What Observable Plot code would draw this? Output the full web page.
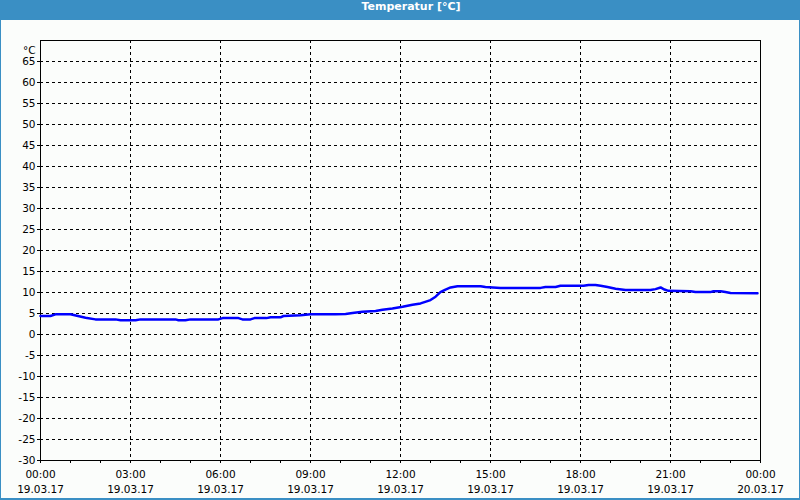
<!DOCTYPE html>
<html>
<head>
<meta charset="utf-8">
<script src="https://cdn.jsdelivr.net/npm/d3@7"></script>
<script src="https://cdn.jsdelivr.net/npm/@observablehq/plot@0.6"></script>
<style>
  html, body { margin: 0; padding: 0; background: #ffffff; }
  #wrap { position: relative; width: 800px; height: 500px; background: #3a8fc4; overflow: hidden; }
  #title { position: absolute; left: 0; top: 0; width: 800px; height: 20px; line-height: 20px;
           text-align: center; padding-left: 22px; box-sizing: border-box;
           color: #ffffff; font: bold 11px "DejaVu Sans", sans-serif; }
  #panel { position: absolute; left: 1px; top: 20px; right: 1px; bottom: 2px; background: #fbfdfb; }
  #chart { position: absolute; left: 0; top: 20px; }
  #chart svg { overflow: visible; }
</style>
</head>
<body>
<div id="wrap">
  <div id="title">Temperatur [°C]</div>
  <div id="panel"></div>
  <div id="chart"></div>
</div>
<script>
// Hours since 19.03.17 00:00
const hours = [0.0, 0.33, 0.5, 1.0, 1.25, 1.5, 1.83, 2.5, 2.67, 3.17, 3.33, 4.5, 4.6, 4.83, 5.0, 5.93, 6.07, 6.6, 6.73, 7.0, 7.13, 7.53, 7.67, 8.0, 8.1, 8.67, 9.0, 9.83, 10.17, 10.4, 10.73, 11.17, 11.4, 11.73, 12.07, 12.4, 12.67, 13.0, 13.17, 13.33, 13.5, 13.67, 13.9, 14.67, 14.83, 15.33, 16.67, 16.83, 17.17, 17.33, 18.1, 18.27, 18.5, 18.67, 18.9, 19.17, 19.5, 20.33, 20.5, 20.67, 20.8, 20.93, 21.67, 21.83, 22.33, 22.43, 22.67, 22.83, 23.0, 23.9];
// Temperature in °C
const temps = [4.4, 4.4, 4.8, 4.8, 4.4, 4.0, 3.6, 3.6, 3.4, 3.4, 3.6, 3.6, 3.4, 3.4, 3.6, 3.6, 3.9, 3.9, 3.6, 3.6, 3.9, 3.9, 4.1, 4.1, 4.4, 4.6, 4.8, 4.8, 4.9, 5.1, 5.4, 5.6, 5.9, 6.2, 6.6, 7.1, 7.4, 8.2, 9.0, 10.1, 10.7, 11.2, 11.5, 11.5, 11.3, 11.1, 11.1, 11.3, 11.3, 11.6, 11.6, 11.8, 11.8, 11.6, 11.3, 10.9, 10.6, 10.6, 10.8, 11.2, 10.7, 10.4, 10.3, 10.1, 10.1, 10.3, 10.3, 10.1, 9.9, 9.8];

const yTicks = [-30, -25, -20, -15, -10, -5, 0, 5, 10, 15, 20, 25, 30, 35, 40, 45, 50, 55, 60, 65];
const yUnit = "°C";
const xTickHours = [0, 3, 6, 9, 12, 15, 18, 21, 24];
const xTickTimes = ["00:00", "03:00", "06:00", "09:00", "12:00", "15:00", "18:00", "21:00", "00:00"];
const xTickDates = ["19.03.17", "19.03.17", "19.03.17", "19.03.17", "19.03.17", "19.03.17", "19.03.17", "19.03.17", "20.03.17"];
const xMinorHours = d3.range(0, 25, 1);

const data = hours.map((h, i) => ({h, t: temps[i]}));
const dash = {stroke: "black", strokeOpacity: 1, strokeDasharray: "3,3", strokeWidth: 1};

const chart = Plot.plot({
  width: 800,
  height: 480,
  marginTop: 20,
  marginLeft: 40,
  marginRight: 40,
  marginBottom: 40,
  style: {background: "transparent", fontFamily: "DejaVu Sans, sans-serif", fontSize: "10.5px", color: "black"},
  x: {domain: [0, 24], label: null},
  y: {domain: [-30, 70], label: null},
  marks: [
    Plot.gridX(xTickHours.slice(1, -1), dash),
    Plot.gridY(yTicks.slice(1), dash),
    Plot.frame({stroke: "black"}),
    Plot.axisY(yTicks, {tickSize: 3, tickPadding: 2, tickFormat: d => String(d), label: null}),
    Plot.text([yUnit], {frameAnchor: "top-left", dx: -5, dy: 6, textAnchor: "end", fill: "black"}),
    Plot.axisX(xMinorHours, {tickSize: 3, tickFormat: () => "", label: null}),
    Plot.axisX(xTickHours, {tickSize: 0, tickPadding: 10, tickFormat: d => xTickTimes[xTickHours.indexOf(d)], label: null}),
    Plot.axisX(xTickHours, {tickSize: 0, tickPadding: 25, tickFormat: d => xTickDates[xTickHours.indexOf(d)], label: null}),
    Plot.line(data, {x: "h", y: "t", stroke: "#0000ff", strokeWidth: 2.5})
  ]
});
document.getElementById("chart").appendChild(chart);
</script>
</body>
</html>
